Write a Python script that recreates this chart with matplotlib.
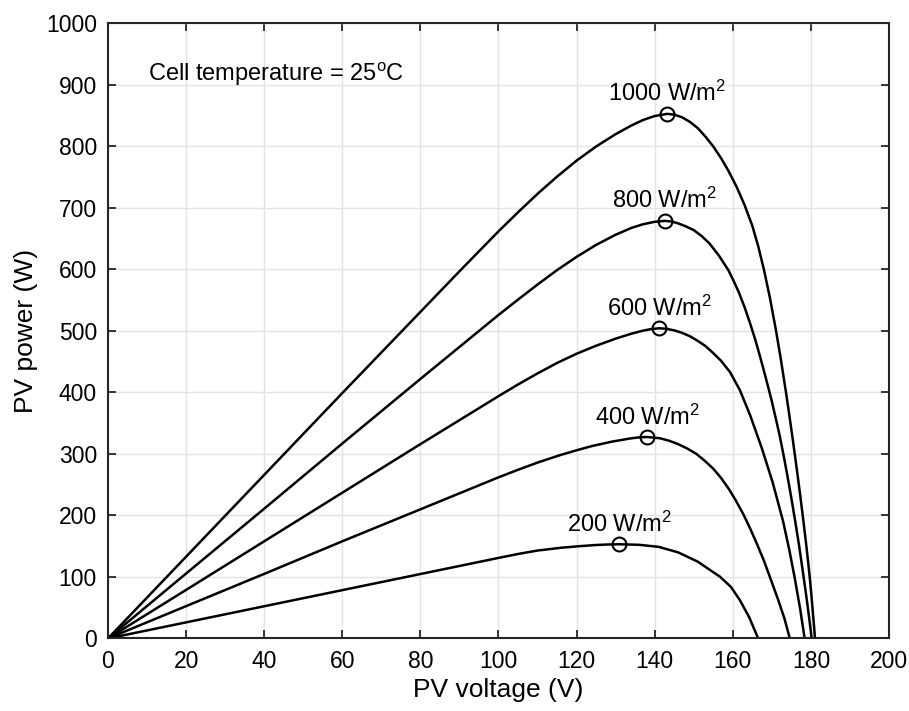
import numpy as np
import matplotlib
matplotlib.use("Agg")
import matplotlib.pyplot as plt

plt.rcParams['font.family'] = ['Liberation Sans', 'DejaVu Sans']
plt.rcParams['mathtext.fontset'] = 'custom'
plt.rcParams['mathtext.rm'] = 'Liberation Sans'
plt.rcParams['mathtext.it'] = 'Liberation Sans:italic'

# P-V curves (voltage in V, power in W)
v_1000 = [0, 20, 40, 60, 80, 90, 100, 105, 110, 115, 120, 125, 130, 134, 137, 140, 143.2,
          145, 147, 149, 151, 153, 155, 157, 159, 161, 163, 165, 166.5, 168, 169.5, 171, 172.3,
          173.6, 174.5, 175.5, 176.5, 177.3, 178, 178.7, 179.3, 179.8, 180.3, 180.7, 181.05]
p_1000 = [0, 133, 266, 399, 531, 597, 662, 693, 723, 751, 777, 800, 820, 834, 843, 849.5, 853,
          851.8, 847.5, 840, 830, 816, 800, 781, 759, 734, 705, 671, 638, 599, 554, 503, 454,
          401, 362, 317, 270, 231, 195, 158, 124, 93, 58, 28, 0]

v_800 = [0, 20, 40, 60, 80, 90, 100, 105, 110, 115, 120, 125, 130, 134, 137, 140, 142.6,
         144.3, 146, 148, 150, 152, 154, 156.4, 158.9, 160.2, 161.5, 163, 164.4, 165.7, 167,
         168.4, 169.9, 171, 172, 173, 174, 175, 176, 177, 178, 178.6, 179.2, 179.7, 180.2]
p_800 = [0, 105.6, 211, 317, 422, 474, 526, 551, 575.5, 599, 620.5, 640, 656.5, 667.5, 673.5, 677.5, 679,
         678, 675, 670, 664, 654.5, 642.5, 623, 598.5, 581.5, 563.5, 539, 513, 487, 458,
         425, 388, 358, 330, 298, 264, 228, 190, 150, 106, 79, 51, 26, 0]

v_600 = [0, 20, 40, 60, 80, 90, 100, 105, 110, 115, 120, 125, 130, 134, 137, 139, 141.2,
         143, 145, 147, 149, 151, 153, 155, 157, 159.3, 161.8, 164.5, 167.4, 170.2, 172.9,
         174.5, 175.9, 177.3, 178.4]
p_600 = [0, 79, 158, 237, 316, 355, 394, 413, 431, 448, 463, 476, 487.5, 495.5, 500.5, 503, 504.4,
         503.5, 501, 497, 491.5, 484, 475.5, 464, 451.5, 433, 404, 362, 310, 254, 190,
         143, 97, 46, 0]

v_400 = [0, 20, 40, 60, 80, 90, 100, 105, 110, 115.7, 120, 124, 129, 134, 136, 138.1,
         141.4, 143.7, 146, 148.3, 150.7, 152.8, 155, 157, 159, 160.8, 162.7, 164.5, 166.3,
         168, 169.5, 171.5, 172.4, 173.2, 174.6]
p_400 = [0, 52.6, 105, 158, 210, 236, 262, 274.3, 286, 298, 306, 313, 320, 325.5, 327, 327.6,
         325.5, 321.5, 316, 309, 300, 289, 276, 261, 243, 224, 202, 178, 152,
         126, 100, 65, 48, 33, 0]

v_200 = [0, 20, 40, 60, 80, 90, 100, 105, 110, 116, 120, 125, 128, 130.9, 136, 141, 146,
         151, 156.7, 159.5, 161.8, 164.2, 166.5]
p_200 = [0, 26.2, 52.4, 78.6, 104.8, 117.9, 131, 137.4, 143, 147.5, 149.7, 152, 152.8, 153.2,
         152.3, 149, 140, 125, 100.5, 84, 62.5, 34.5, 0]

labels = ['1000 W/m$^2$', '800 W/m$^2$', '600 W/m$^2$', '400 W/m$^2$', '200 W/m$^2$']
mpp_v = [143.2, 142.6, 141.2, 138.1, 130.9]
mpp_p = [853, 679, 504.4, 327.6, 153.2]

curves = [(v_1000, p_1000), (v_800, p_800), (v_600, p_600), (v_400, p_400), (v_200, p_200)]

fig = plt.figure(figsize=(9.09, 7.11), dpi=100)
ax = fig.add_axes([0.1188, 0.102, 0.8592, 0.865])

for v, p in curves:
    ax.plot(v, p, color='black', lw=1.8, solid_joinstyle='round')

ax.plot(mpp_v, mpp_p, 'o', ms=10, mfc='none', mec='black', mew=1.5, ls='none')
for v, p, lab in zip(mpp_v, mpp_p, labels):
    ax.annotate(lab, (v, p), xytext=(0, 9), textcoords='offset points',
                ha='center', va='baseline', fontsize=17)

ax.text(10.3, 906, 'Cell temperature = 25$^{\\rm o}$C', fontsize=17, ha='left', va='baseline')

ax.set_xlim(0, 200)
ax.set_ylim(0, 1000)
ax.set_xticks(np.arange(0, 201, 20))
ax.set_yticks(np.arange(0, 1001, 100))
ax.grid(True, color='#e3e3e3', lw=1)
ax.set_axisbelow(True)
ax.tick_params(direction='in', top=True, right=True, length=6, width=1.3,
               labelsize=16.5, color='#262626', pad=8)
for s in ax.spines.values():
    s.set_linewidth(1.5)
    s.set_color('#262626')

ax.set_xlabel('PV voltage (V)', fontsize=19, labelpad=4)
ax.set_ylabel('PV power (W)', fontsize=19, labelpad=6)

fig.savefig('out.png', dpi=100)
